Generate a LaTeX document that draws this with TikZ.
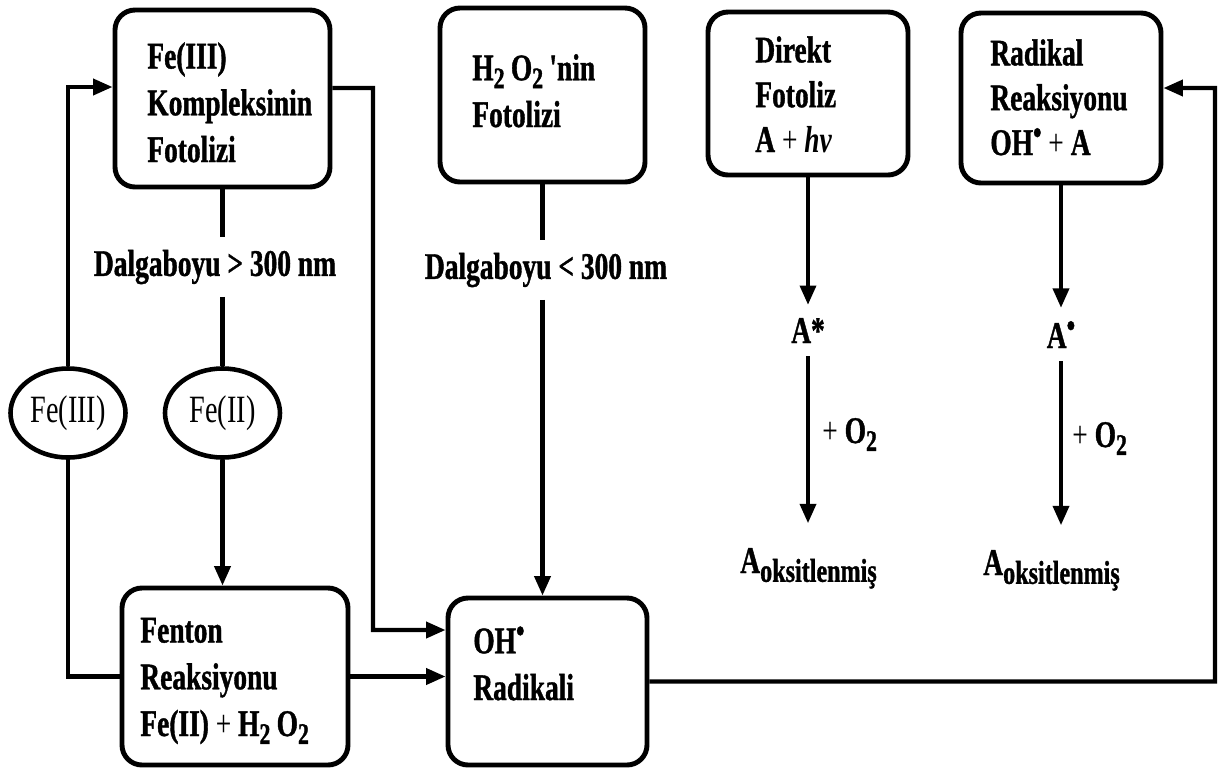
\documentclass[tikz,border=0pt]{standalone}
\usepackage{fontspec}
\setmainfont{Liberation Serif}[FakeStretch=0.73,Ligatures=TeXOff,BoldFeatures={FakeBold=1}]
\usetikzlibrary{arrows.meta,shapes.geometric}
\newcommand{\lo}[1]{\raisebox{-4.5pt}{\fontsize{17}{17}\selectfont #1}}
\newcommand{\oksub}{\raisebox{-5pt}{\fontsize{18.8}{18.8}\selectfont oksitlenmiş}}
\newcommand{\rad}{\raisebox{0.3em}{\fontsize{19}{19}\selectfont\textbullet}}
\newcommand{\pl}{{\mdseries +}}
\tikzset{
  px/.style={x=0.02cm,y=-0.02cm},
  box/.style={draw,line width=2.8pt,rounded corners=0.4cm,inner sep=0pt,rectangle},
  oval/.style={draw,line width=2.6pt,ellipse,inner sep=0pt,minimum width=115*0.02cm,minimum height=89*0.02cm,font=\mdseries\fontsize{22}{26.6}\selectfont},
  boxtext/.style={anchor=base west,align=left,inner sep=0pt},
  lbl/.style={inner sep=0pt,inner ysep=7pt},
  conn/.style={line width=2.3pt},
  arr/.style={conn,-{Triangle[length=11pt,width=9pt]}},
}
\begin{document}
\begin{tikzpicture}[px,font=\bfseries\fontsize{21.4}{26.6}\selectfont]
\useasboundingbox (0,0) rectangle (1218,768);
% boxes
\node[box,minimum width=215*0.02cm,minimum height=177*0.02cm] (b1) at (222.5,98.5) {};
\node[box,minimum width=205*0.02cm,minimum height=174*0.02cm] (b2) at (542.5,95) {};
\node[box,minimum width=200*0.02cm,minimum height=163*0.02cm] (b3) at (808,93.5) {};
\node[box,minimum width=200*0.02cm,minimum height=170*0.02cm] (b4) at (1061,98) {};
\node[box,minimum width=226*0.02cm,minimum height=177*0.02cm] (b5) at (235,676.5) {};
\node[box,minimum width=199*0.02cm,minimum height=167*0.02cm] (b6) at (547.5,681.5) {};
% box texts (anchored at the baseline of the last line)
\node[boxtext] (t1) at (147,162) {Fe(III)\\Kompleksinin\\Fotolizi};
\node[boxtext] (t2) at (472,127) {H\lo{2}\,O\lo{2}\,'nin\\Fotolizi};
\node[boxtext,font=\bfseries\fontsize{21.4}{25.5}\selectfont] (t3) at (755,152) {Direkt\\Fotoliz\\A \pl{} \textit{hv}};
\node[boxtext,font=\bfseries\fontsize{21.4}{25.5}\selectfont] (t4) at (990,155) {Radikal\\Reaksiyonu\\OH\rad{} \pl{} A};
\node[boxtext] (t5) at (140,736) {Fenton\\Reaksiyonu\\Fe(II) \pl{} H\lo{2}\,O\lo{2}};
\node[boxtext] (t6) at (473,700) {OH\rad\\Radikali};
% ellipses
\node[oval] (e1) at (68,413) {Fe(III)};
\node[oval] (e2) at (222.5,413) {Fe(II)};
% wavelength labels
\node[lbl] (l1) at (215,267) {Dalgaboyu > 300 nm};
\node[lbl] (l2) at (546,270) {Dalgaboyu < 300 nm};
% A species
\node[inner sep=0pt,inner ysep=7.4pt,anchor=base] (as) at (808,343) {A*};
\node[inner sep=0pt,inner ysep=7.4pt,anchor=base] (ar) at (1061,348) {A\rad};
\node[inner sep=0pt,inner ysep=14pt,anchor=base west] (ao1) at (740,573) {A\oksub};
\node[inner sep=0pt,inner ysep=14pt,anchor=base west] (ao2) at (983,575) {A\oksub};
\node[inner sep=0pt,anchor=base west] (o1) at (822,443) {\pl{} O\lo{2}};
\node[inner sep=0pt,anchor=base west] (o2) at (1072,447) {\pl{} O\lo{2}};
% helper coordinates
\coordinate (b1in) at ([yshift=0.23cm]b1.west);
\coordinate (b1out) at ([yshift=0.21cm]b1.east);
\coordinate (c1) at (373,630);
\coordinate (b6in) at ([yshift=1.03cm]b6.west);
\coordinate (c2) at (1215,88);
\coordinate (b4in) at ([yshift=0.2cm]b4.east);
% connectors
\draw[conn] (b1.south) -- (b1.south |- l1.north);
\draw[conn] (l1.south -| b1.south) -- (e2.north);
\draw[arr] (e2.south) -- (b5.north -| e2.south);
\draw[conn] (b5.west) -| (e1.south);
\draw[arr] (e1.north) |- (b1in);
\draw[arr] (b1out) -| (c1) -- (b6in);
\draw[arr] (b5.east) -- (b5.east -| b6.west);
\draw[conn] (b2.south) -- (b2.south |- l2.north);
\draw[arr] (l2.south -| b2.south) -- (b6.north -| b2.south);
\draw[arr] (b6.east) -| (c2) -- (b4in);
\draw[arr] (b3.south) -- (as.north -| b3.south);
\draw[arr] (as.south -| b3.south) -- (ao1.north -| b3.south);
\draw[arr] (b4.south) -- (ar.north -| b4.south);
\draw[arr] (ar.south -| b4.south) -- (ao2.north -| b4.south);
\end{tikzpicture}
\end{document}
